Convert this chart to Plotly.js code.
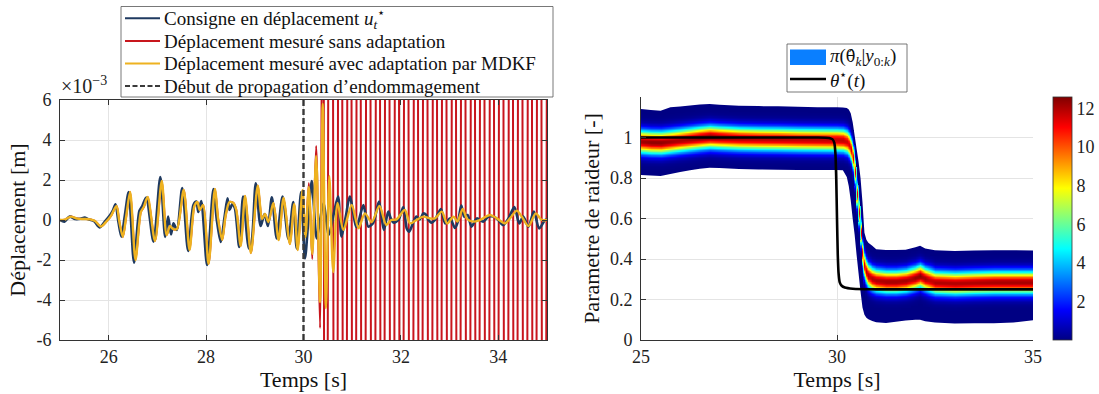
<!DOCTYPE html>
<html><head><meta charset="utf-8">
<script src="https://cdn.plot.ly/plotly-3.0.1.min.js"></script>
<style>html,body{margin:0;padding:0;background:#fff}#chart{width:1099px;height:394px}</style>
</head><body><div id="chart"></div>
<script>
// ===== Left panel : displacement (units of 1e-3 m) =====
const consigneT = [25.00,25.09,25.20,25.31,25.42,25.51,25.60,25.70,25.81,25.92,26.03,26.09,26.14,26.20,26.26,26.33,26.41,26.52,26.63,26.69,26.77,26.92,27.06,27.16,27.22,27.28,27.33,27.40,27.51,27.63,27.74,27.80,27.84,27.90,28.02,28.15,28.22,28.30,28.38,28.44,28.48,28.54,28.59,28.68,28.76,28.88,28.93,29.02,29.12,29.20,29.27,29.35,29.45,29.57,29.69,29.79,29.86,29.95,30.03,30.10,30.17,30.27,30.34,30.41,30.52,30.62,30.71,30.78,30.87,30.95,31.09,31.23,31.33,31.43,31.55,31.65,31.74,31.79,31.85,31.95,32.05,32.12,32.17,32.26,32.32,32.39,32.46,32.52,32.56,32.63,32.70,32.82,32.91,33.01,33.11,33.18,33.24,33.30,33.37,33.45,33.56,33.69,33.80,33.90,34.00,34.10,34.21,34.33,34.43,34.51,34.62,34.73,34.84,34.96,35.00];
const consigneV = [0.00,-0.08,0.17,0.05,0.06,0.12,0.02,-0.06,-0.37,-0.08,0.25,0.50,0.78,-0.10,-0.83,0.20,1.40,-2.13,0.45,0.70,1.12,-1.08,2.15,-0.85,0.17,-0.72,-0.17,-0.50,1.60,-1.55,0.75,0.92,0.40,0.95,-2.25,1.55,0.00,-1.10,0.17,1.08,0.50,0.80,0.60,-1.35,1.17,-1.42,-1.20,1.83,-0.30,0.30,-0.30,1.13,-0.92,1.17,-0.95,0.90,-1.42,1.40,-1.92,0.00,1.95,-0.92,0.00,0.83,-0.75,0.30,1.17,-0.83,0.20,1.17,-0.35,0.75,-0.33,-0.15,0.92,-0.50,0.42,0.10,-0.13,0.00,0.65,-0.42,-0.58,-0.08,0.17,0.03,0.33,0.25,0.03,-0.13,0.00,0.55,-0.17,0.08,-0.40,0.00,0.72,0.17,0.25,-0.33,0.08,-0.08,0.17,0.17,0.00,-0.25,0.08,0.65,-0.17,0.17,-0.33,0.42,-0.42,0.00,0.02];

const mdkfT = [25.00,25.10,25.22,25.35,25.50,25.62,25.72,25.84,25.95,26.05,26.16,26.22,26.29,26.36,26.44,26.55,26.66,26.72,26.80,26.95,27.09,27.19,27.26,27.32,27.40,27.54,27.66,27.76,27.82,27.87,27.94,28.05,28.18,28.25,28.33,28.40,28.48,28.56,28.62,28.71,28.80,28.92,29.06,29.15,29.21,29.28,29.38,29.49,29.59,29.72,29.81,29.88,29.98,30.04,30.11,30.18,30.26,30.34,30.395,30.46,30.53,30.61,30.70,30.82,30.99,31.13,31.26,31.40,31.56,31.70,31.80,31.91,32.08,32.19,32.32,32.46,32.60,32.70,32.84,32.95,33.08,33.16,33.27,33.36,33.49,33.62,33.83,33.97,34.14,34.24,34.38,34.48,34.62,34.77,34.89,35.00];
const mdkfV = [0.00,0.02,0.17,0.07,0.05,0.03,-0.05,-0.33,-0.08,0.22,0.70,-0.10,-0.85,0.20,1.40,-2.00,0.40,0.65,1.15,-1.05,1.95,-0.75,-0.30,-0.45,-0.45,1.50,-1.50,0.70,0.90,0.50,0.75,-2.20,1.55,0.00,-1.00,0.20,0.90,0.85,0.50,-1.30,1.20,-1.65,1.72,0.05,0.30,-0.10,0.85,-1.00,1.10,-1.20,0.80,-1.50,1.50,-0.85,1.65,-1.70,3.20,-4.10,5.80,-4.40,2.20,-2.60,0.85,-0.50,0.75,-0.42,0.33,-0.10,0.70,-0.25,0.00,0.03,0.50,-0.17,0.00,0.17,0.08,0.08,0.42,-0.17,0.17,-0.08,0.55,0.05,-0.08,0.00,0.25,0.08,-0.17,0.08,0.47,0.17,-0.30,0.33,0.00,0.00];

// "sans adaptation": identical to the MDKF response up to t = 30.04 s, then diverges
const sansSplitT = 30.04;
const sansDivT = [30.11,30.18,30.26,30.34,30.40,30.45,30.56,30.66,30.75,30.85,30.94,31.04,31.13,31.23,31.33,31.43,31.53,31.62,31.72,31.82,31.92,32.01,32.11,32.21,32.31,32.40,32.50,32.60,32.70,32.79,32.89,32.99,33.09,33.18,33.28,33.38,33.48,33.57,33.67,33.77,33.87,33.96,34.06,34.16,34.26,34.35,34.45,34.55,34.65,34.74,34.84,34.94,35.04];
const sansDivV = [1.85,-1.95,3.70,-5.40,25,-60,60,-60,60,-60,60,-60,60,-60,60,-60,60,-60,60,-60,60,-60,60,-60,60,-60,60,-60,60,-60,60,-60,60,-60,60,-60,60,-60,60,-60,60,-60,60,-60,60,-60,60,-60,60,-60,60,-60,60];

const damageStart = 30;
const leftXTicks = [26,28,30,32,34];
const leftXLabels = ['26','28','30','32','34'];
const leftYTicks = [-6,-4,-2,0,2,4,6];
const leftYLabels = ['-6','-4','-2','0','2','4','6'];
const leftNames = ['Consigne en déplacement <i>u</i><sub><i>t</i></sub><sup>⋆</sup>','Déplacement mesuré sans adaptation','Déplacement mesuré avec adaptation par MDKF','Début de propagation d’endommagement'];

// ===== Right panel : posterior of stiffness parameter =====
const postT  = [25.00,25.25,25.50,25.75,26.00,26.25,26.50,26.75,27.00,27.50,28.00,28.50,29.00,29.50,30.00,30.15,30.25,30.30,30.35,30.40,30.45,30.50,30.55,30.60,30.65,30.70,30.75,30.80,30.90,31.00,31.25,31.50,31.75,32.00,32.12,32.25,32.50,33.00,33.50,34.00,34.50,35.00];
const postMu = [0.980,0.976,0.975,0.980,0.986,0.992,0.998,1.003,1.000,0.995,0.993,0.992,0.990,0.989,0.988,0.986,0.978,0.965,0.940,0.900,0.830,0.720,0.630,0.530,0.430,0.370,0.338,0.318,0.302,0.294,0.288,0.288,0.293,0.306,0.316,0.302,0.284,0.280,0.283,0.285,0.285,0.285];
const postLo = [0.815,0.812,0.810,0.820,0.830,0.838,0.846,0.851,0.849,0.844,0.842,0.841,0.840,0.840,0.840,0.838,0.805,0.760,0.690,0.600,0.520,0.420,0.330,0.240,0.160,0.125,0.110,0.102,0.094,0.088,0.084,0.090,0.096,0.100,0.100,0.093,0.086,0.082,0.083,0.083,0.086,0.098];
const postHi = [1.141,1.136,1.132,1.149,1.153,1.158,1.163,1.165,1.162,1.157,1.155,1.154,1.152,1.150,1.149,1.148,1.146,1.138,1.120,1.075,1.010,0.945,0.880,0.800,0.680,0.530,0.495,0.480,0.465,0.448,0.445,0.444,0.446,0.458,0.465,0.452,0.443,0.440,0.442,0.443,0.443,0.442];
const postSd = [0.038,0.038,0.038,0.038,0.038,0.038,0.038,0.038,0.038,0.038,0.038,0.038,0.038,0.038,0.038,0.038,0.038,0.038,0.038,0.038,0.038,0.038,0.038,0.038,0.038,0.038,0.038,0.038,0.038,0.038,0.038,0.038,0.038,0.038,0.038,0.038,0.038,0.038,0.038,0.038,0.038,0.038];
const postPk = [12.2,12.4,12.4,12.2,12.1,12.2,12.4,12.5,12.3,12.0,11.9,11.9,11.8,11.8,11.8,11.8,11.6,11.5,11.5,11.5,11.5,11.5,11.5,11.5,11.5,11.6,11.8,12.0,12.0,12.0,12.1,12.1,12.1,12.3,12.5,12.2,12.0,12.0,12.0,12.1,12.1,12.1];
const densityMax = 12.6;

const thetaStarT = [25.00,29.50,29.80,29.88,29.93,29.96,29.98,30.00,30.02,30.04,30.07,30.12,30.20,30.40,31.00,35.00];
const thetaStarV = [1.000,1.000,0.998,0.992,0.975,0.920,0.800,0.600,0.420,0.330,0.285,0.268,0.259,0.253,0.250,0.250];

const rightXTicks = [25,30,35];
const rightXLabels = ['25','30','35'];
const rightYTicks = [0,0.2,0.4,0.6,0.8,1];
const rightYLabels = ['0','0.2','0.4','0.6','0.8','1'];
const cbTicks = [2,4,6,8,10,12];
const cbLabels = ['2','4','6','8','10','12'];
const rightNames = ['<i>π</i>(<span style="font-family:DejaVu Serif;font-size:16px">θ̂</span><sub><i>k</i></sub>|<i>y</i><sub>0:<i>k</i></sub>)','<i>θ</i><sup>⋆</sup>(<i>t</i>)'];

// ===== colours & fonts =====
const C_BLUE='#1f3a60', C_RED='#c8161d', C_YEL='#eeb220', C_DASH='#3a3a3a', C_NAVY='#000083';
const FONT='Liberation Serif';
const W=1099, H=394;
const X = p => p/W, Y = p => 1 - p/H;

// build red series from shared part + divergent tail
const sansT = [], sansV = [];
mdkfT.forEach((t,i)=>{ if(t<=sansSplitT){ sansT.push(t); sansV.push(mdkfV[i]); } });
sansDivT.forEach((t,i)=>{ sansT.push(t); sansV.push(sansDivV[i]); });

// support envelope of the posterior (dark-blue region) as a data-space path
const envPts = postT.map((t,i)=>[t,postHi[i]]).concat(postT.map((t,i)=>[t,postLo[i]]).reverse());
const envPath = 'M' + envPts.map(p=>p[0]+','+p[1]).join('L') + 'Z';

// density grid (transparent where negligible: envelope shows through)
const thetaRows = [];
for(let k=0;k<=400;k++) thetaRows.push(+(k*0.003).toFixed(3));
const zGrid = thetaRows.map(th => postT.map((t,i) => {
  if(th<postLo[i] || th>postHi[i]) return null;
  const v = postPk[i]*Math.exp(-Math.pow(th-postMu[i],2)/(2*postSd[i]*postSd[i]));
  return v < 0.02 ? null : v;
}));

const jet = [[0,C_NAVY],[0.125,'#0000ff'],[0.375,'#00ffff'],[0.625,'#ffff00'],[0.875,'#ff0000'],[1,'#800000']];

const traces = [
  {x:sansT, y:sansV, mode:'lines', line:{color:C_RED,width:2,shape:'spline',smoothing:0.8}, xaxis:'x', yaxis:'y', showlegend:false, hoverinfo:'skip', name:'Déplacement mesuré sans adaptation'},
  {x:consigneT, y:consigneV, mode:'lines', line:{color:C_BLUE,width:2.6,shape:'spline',smoothing:0.8}, xaxis:'x', yaxis:'y', showlegend:false, name:'Consigne'},
  {x:mdkfT, y:mdkfV, mode:'lines', line:{color:C_YEL,width:2.4,shape:'spline',smoothing:0.8}, xaxis:'x', yaxis:'y', showlegend:false, name:'MDKF'},
  {x:[damageStart,damageStart], y:[leftYTicks[0],leftYTicks[leftYTicks.length-1]], mode:'lines', line:{color:C_DASH,width:2.4,dash:'6px,3px'}, xaxis:'x', yaxis:'y', showlegend:false, name:'Début'},
  {type:'heatmap', x:postT, y:thetaRows, z:zGrid, zsmooth:'best', zmin:0, zmax:densityMax, colorscale:jet, xaxis:'x2', yaxis:'y2', hoverinfo:'skip',
   colorbar:{x:X(1053), xanchor:'left', y:Y(97), yanchor:'top', len:243, lenmode:'pixels', thickness:19, thicknessmode:'pixels', xpad:0, ypad:0,
     outlinewidth:0.8, outlinecolor:'#333', tickvals:cbTicks, ticktext:cbLabels, ticks:'', tickfont:{family:FONT,size:18,color:'#222'}}},
  {x:thetaStarT, y:thetaStarV, mode:'lines', line:{color:'#000',width:2.6,shape:'spline',smoothing:0.5}, xaxis:'x2', yaxis:'y2', showlegend:false, name:'theta*'}
];

const axBase = {showline:true, linecolor:'#333', linewidth:1, ticks:'inside', ticklen:5, tickcolor:'#333', zeroline:false,
  showgrid:true, gridcolor:'#e4e4e4', gridwidth:1, tickfont:{family:FONT,size:18,color:'#222'}, tickmode:'array'};

const shapes = [];
const annotations = [];
// posterior support envelope
shapes.push({type:'path', xref:'x2', yref:'y2', path:envPath, fillcolor:C_NAVY, line:{width:0}, layer:'between'});
// left legend
shapes.push({type:'rect', xref:'paper', yref:'paper', x0:X(121), x1:X(553), y0:Y(97), y1:Y(6.5), line:{color:'#555',width:0.8}, fillcolor:'#fff'});
const legRows = [18.3,41,63.5,86];
const legStyles = [{color:C_BLUE,width:2},{color:C_RED,width:2},{color:C_YEL,width:2},{color:C_DASH,width:2,dash:'5px,2.5px'}];
legRows.forEach((r,i)=>{
  shapes.push({type:'line', xref:'paper', yref:'paper', x0:X(125), x1:X(160), y0:Y(r), y1:Y(r), line:legStyles[i]});
  annotations.push({xref:'paper', yref:'paper', x:X(162), y:Y(r), xanchor:'left', yanchor:'middle', showarrow:false, text:leftNames[i], font:{family:FONT,size:19,color:'#111'}});
});
// right legend
shapes.push({type:'rect', xref:'paper', yref:'paper', x0:X(787), x1:X(907), y0:Y(92), y1:Y(44), line:{color:'#555',width:0.8}, fillcolor:'#fff'});
shapes.push({type:'rect', xref:'paper', yref:'paper', x0:X(790), x1:X(826), y0:Y(65), y1:Y(49.5), line:{width:0}, fillcolor:'#0a7fff'});
shapes.push({type:'line', xref:'paper', yref:'paper', x0:X(790), x1:X(826), y0:Y(79), y1:Y(79), line:{color:'#000',width:2.6}});
annotations.push({xref:'paper', yref:'paper', x:X(828), y:Y(57), xanchor:'left', yanchor:'middle', showarrow:false, text:rightNames[0], font:{family:FONT,size:19,color:'#111'}});
annotations.push({xref:'paper', yref:'paper', x:X(828), y:Y(79), xanchor:'left', yanchor:'middle', showarrow:false, text:rightNames[1], font:{family:FONT,size:19,color:'#111'}});
// exponent label
annotations.push({xref:'paper', yref:'paper', x:X(59), y:Y(85), xanchor:'left', yanchor:'middle', showarrow:false, text:'×10<sup>−3</sup>', font:{family:FONT,size:20,color:'#222'}});

const layout = {
  width:W, height:H, margin:{l:0,r:0,t:0,b:0}, paper_bgcolor:'#fff', plot_bgcolor:'rgba(0,0,0,0)', showlegend:false,
  font:{family:FONT, color:'#222'},
  xaxis:Object.assign({}, axBase, {domain:[X(60),X(547)], range:[25,35], anchor:'y', mirror:'allticks', tickvals:leftXTicks, ticktext:leftXLabels,
     title:{text:'Temps [s]', font:{family:FONT,size:22,color:'#111'}, standoff:2}}),
  yaxis:Object.assign({}, axBase, {domain:[Y(340),Y(100)], range:[-6,6], anchor:'x', mirror:'allticks', tickvals:leftYTicks, ticktext:leftYLabels, ticklabelstandoff:4,
     title:{text:'Déplacement [m]', font:{family:FONT,size:22,color:'#111'}, standoff:4}}),
  xaxis2:Object.assign({}, axBase, {domain:[X(641),X(1033)], range:[25,35], anchor:'y2', tickvals:rightXTicks, ticktext:rightXLabels,
     title:{text:'Temps [s]', font:{family:FONT,size:22,color:'#111'}, standoff:2}}),
  yaxis2:Object.assign({}, axBase, {domain:[Y(340),Y(97)], range:[0,1.2], anchor:'x2', tickvals:rightYTicks, ticktext:rightYLabels, ticklabelstandoff:4,
     title:{text:'Parametre de raideur [-]', font:{family:FONT,size:22,color:'#111'}, standoff:4}}),
  shapes:shapes, annotations:annotations
};

Plotly.newPlot('chart', traces, layout, {displayModeBar:false, staticPlot:true});
</script>
</body></html>
